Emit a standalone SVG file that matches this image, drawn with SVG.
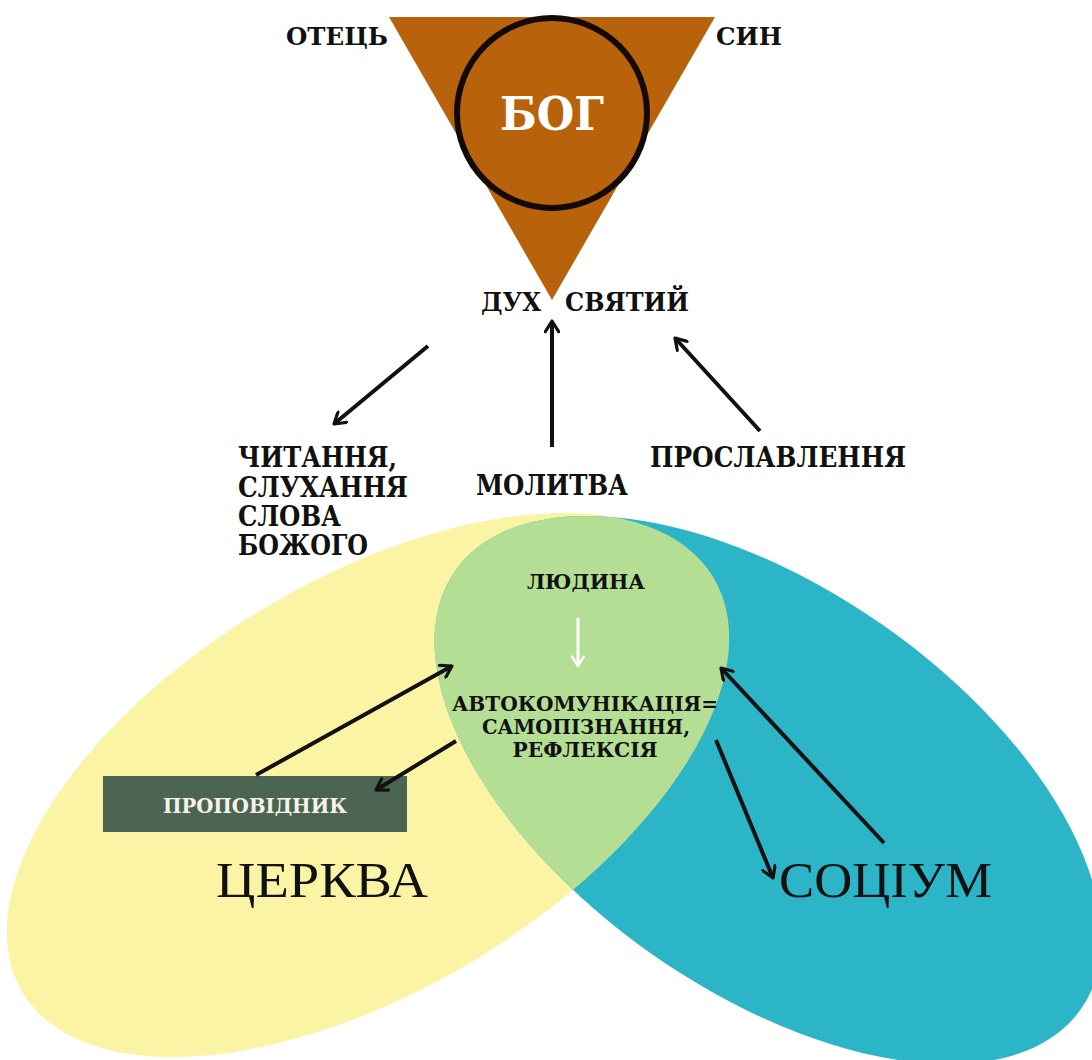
<svg xmlns="http://www.w3.org/2000/svg" width="1092" height="1060" viewBox="0 0 1092 1060">
<defs>
<style>
.b{font-family:"DejaVu Serif","Liberation Serif",serif;font-weight:bold;fill:#111}
.r{font-family:"Liberation Serif","Times New Roman",serif;font-weight:normal;fill:#111}
.w{fill:#fff}
.arr{stroke:#111;stroke-width:4;fill:none;stroke-linecap:butt;marker-end:url(#head)}
.warr{stroke:#fff;stroke-width:3;fill:none;marker-end:url(#whead)}
</style>
<marker id="head" viewBox="0 0 12 12" refX="10" refY="6" markerWidth="16" markerHeight="16" markerUnits="userSpaceOnUse" orient="auto">
<path d="M2,1 L10,6 L2,11" fill="none" stroke="#111" stroke-width="2.4" stroke-linecap="round" stroke-linejoin="round"/>
</marker>
<marker id="whead" viewBox="0 0 12 12" refX="10" refY="6" markerWidth="14" markerHeight="14" markerUnits="userSpaceOnUse" orient="auto">
<path d="M2,1 L10,6 L2,11" fill="none" stroke="#fff" stroke-width="2.2" stroke-linecap="round" stroke-linejoin="round"/>
</marker>
<clipPath id="clipTeal">
<ellipse cx="768" cy="790" rx="382" ry="201" transform="rotate(35 768 790)"/>
</clipPath>
</defs>
<rect x="0" y="0" width="1092" height="1060" fill="#fff"/>

<g id="church">
<ellipse cx="368" cy="785" rx="403" ry="205" transform="rotate(-31 368 785)" fill="#FBF4A4"/>
</g>
<g id="society">
<ellipse cx="768" cy="790" rx="382" ry="201" transform="rotate(35 768 790)" fill="#2CB5C6"/>
</g>
<g id="person" clip-path="url(#clipTeal)">
<ellipse cx="368" cy="785" rx="403" ry="205" transform="rotate(-31 368 785)" fill="#B5DE95"/>
</g>

<g id="god">
<polygon points="389,17 715,17 552,300" fill="#B8620C"/>
<circle cx="552" cy="113" r="95" fill="none" stroke="#140a05" stroke-width="6"/>
<text class="b w" x="552" y="130" font-size="46" text-anchor="middle" textLength="104" lengthAdjust="spacingAndGlyphs">БОГ</text>
</g>
<g id="father"><text class="b" x="286" y="45" font-size="25" textLength="102" lengthAdjust="spacingAndGlyphs">ОТЕЦЬ</text></g>
<g id="son"><text class="b" x="716" y="45" font-size="25" textLength="66" lengthAdjust="spacingAndGlyphs">СИН</text></g>
<g id="spirit">
<text class="b" x="481" y="311" font-size="26" textLength="60" lengthAdjust="spacingAndGlyphs">ДУХ</text>
<text class="b" x="565" y="311" font-size="26" textLength="124" lengthAdjust="spacingAndGlyphs">СВЯТИЙ</text>
</g>

<g id="reading">
<text class="b" x="238" y="467" font-size="27" textLength="159" lengthAdjust="spacingAndGlyphs">ЧИТАННЯ,</text>
<text class="b" x="238" y="497" font-size="27" textLength="170" lengthAdjust="spacingAndGlyphs">СЛУХАННЯ</text>
<text class="b" x="238" y="526" font-size="27" textLength="103" lengthAdjust="spacingAndGlyphs">СЛОВА</text>
<text class="b" x="238" y="555" font-size="27" textLength="130" lengthAdjust="spacingAndGlyphs">БОЖОГО</text>
</g>
<g id="prayer"><text class="b" x="476" y="495" font-size="27" textLength="152" lengthAdjust="spacingAndGlyphs">МОЛИТВА</text></g>
<g id="praise"><text class="b" x="650" y="467" font-size="27" textLength="256" lengthAdjust="spacingAndGlyphs">ПРОСЛАВЛЕННЯ</text></g>

<g id="person-text">
<text class="b" x="586" y="589" font-size="21" text-anchor="middle" textLength="118" lengthAdjust="spacingAndGlyphs">ЛЮДИНА</text>
<text class="b" x="585" y="711" font-size="21" text-anchor="middle" textLength="266" lengthAdjust="spacingAndGlyphs">АВТОКОМУНІКАЦІЯ=</text>
<text class="b" x="586" y="734" font-size="21" text-anchor="middle" textLength="208" lengthAdjust="spacingAndGlyphs">САМОПІЗНАННЯ,</text>
<text class="b" x="585" y="757" font-size="21" text-anchor="middle" textLength="145" lengthAdjust="spacingAndGlyphs">РЕФЛЕКСІЯ</text>
</g>

<g id="preacher">
<rect x="103" y="776" width="304" height="56" fill="#4C6552"/>
<text class="b" x="255" y="813" font-size="21" text-anchor="middle" style="fill:#f5f2ea" textLength="184" lengthAdjust="spacingAndGlyphs">ПРОПОВІДНИК</text>
</g>
<g id="church-label"><text class="r" x="216" y="897" font-size="51" textLength="212" lengthAdjust="spacingAndGlyphs">ЦЕРКВА</text></g>
<g id="society-label"><text class="r" x="779" y="897" font-size="51" textLength="213" lengthAdjust="spacingAndGlyphs">СОЦІУМ</text></g>

<g id="connectors">
<line class="arr" x1="428" y1="346" x2="334" y2="424"/>
<line class="arr" x1="552" y1="447" x2="552" y2="321"/>
<line class="arr" x1="760" y1="431" x2="675" y2="338"/>
<line class="arr" x1="256" y1="775" x2="452" y2="666"/>
<line class="arr" x1="456" y1="741" x2="376" y2="790"/>
<line class="arr" x1="884" y1="843" x2="721" y2="668"/>
<line class="arr" x1="716" y1="740" x2="773" y2="878"/>
<line class="warr" x1="578" y1="618" x2="578" y2="666"/>
</g>
</svg>
